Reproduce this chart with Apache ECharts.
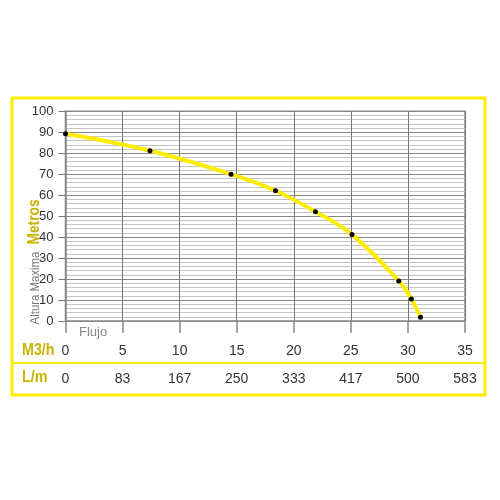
<!DOCTYPE html>
<html><head><meta charset="utf-8">
<script src="https://cdn.jsdelivr.net/npm/echarts@6/dist/echarts.min.js"></script>
<style>html,body{margin:0;padding:0;background:#fff}#c{width:500px;height:500px}</style>
</head><body><div id="c"></div>
<script>
var flowM3h = [0, 7.4, 14.5, 18.4, 21.9, 25.1, 29.2, 30.3, 31.1];
var heightM = [89.3, 81.2, 70.0, 62.1, 52.1, 41.2, 19.1, 10.5, 1.8];
var m3hTicks = [0, 5, 10, 15, 20, 25, 30, 35];
var lmTicks = ['0', '83', '167', '250', '333', '417', '500', '583'];

var YEL = '#ffed00', OLIVE = '#c8b400';
var boldFont = "bold 17px 'Liberation Sans', Arial, sans-serif";
var chart = echarts.init(document.getElementById('c'));
chart.setOption({
  animation: false,
  grid: {left: 65.5, right: 35, top: 111.3, bottom: 179, show: true, borderColor: '#888', borderWidth: 1.5, backgroundColor: 'transparent'},
  xAxis: [{
    type: 'value', min: 0, max: 35, interval: 5,
    axisLine: {show: false},
    axisTick: {show: true, length: 12, lineStyle: {color: '#888', width: 1.5}},
    axisLabel: {margin: 23, color: '#333', fontSize: 14, fontFamily: 'Liberation Sans',
      formatter: function (v) { return m3hTicks.indexOf(v) >= 0 ? String(v) : ''; }},
    splitLine: {show: true, lineStyle: {color: '#777', width: 1}}
  }, {
    type: 'value', min: 0, max: 35, interval: 5, position: 'bottom', offset: 28,
    axisLine: {show: false}, axisTick: {show: false}, splitLine: {show: false},
    axisLabel: {margin: 23, color: '#333', fontSize: 14, fontFamily: 'Liberation Sans',
      formatter: function (v) { var i = m3hTicks.indexOf(v); return i >= 0 ? lmTicks[i] : ''; }}
  }],
  yAxis: {
    type: 'value', min: 0, max: 100, interval: 10,
    axisLine: {show: true, lineStyle: {color: '#888', width: 1.5}},
    axisTick: {show: true, length: 7, lineStyle: {color: '#777'}},
    axisLabel: {margin: 12, color: '#333', fontSize: 13, fontFamily: 'Liberation Sans'},
    splitLine: {show: true, lineStyle: {color: '#888', width: 1}},
    minorTick: {show: false, splitNumber: 5},
    minorSplitLine: {show: true, lineStyle: {color: '#c4c4c4', width: 1}}
  },
  series: [{
    type: 'line', xAxisIndex: 0,
    data: flowM3h.map(function (x, i) { return [x, heightM[i]]; }),
    smooth: 0.4,
    lineStyle: {color: YEL, width: 4},
    symbol: 'circle', symbolSize: 5, showSymbol: true,
    itemStyle: {color: '#000', borderWidth: 0},
    z: 5
  }],
  graphic: [
    {type: 'rect', shape: {x: 12, y: 98, width: 473, height: 297}, style: {fill: null, stroke: YEL, lineWidth: 3}, z: 100},
    {type: 'line', shape: {x1: 12, y1: 363, x2: 485, y2: 363}, style: {stroke: YEL, lineWidth: 2}, z: 100},
    {type: 'text', x: 22, y: 350, scaleX: 0.84, style: {text: 'M3/h', fill: OLIVE, font: boldFont, verticalAlign: 'middle', align: 'left'}},
    {type: 'text', x: 22, y: 377, scaleX: 0.84, style: {text: 'L/m', fill: OLIVE, font: boldFont, verticalAlign: 'middle', align: 'left'}},
    {type: 'text', x: 79, y: 332, style: {text: 'Flujo', fill: '#888', font: "13px 'Liberation Sans'", verticalAlign: 'middle', align: 'left'}},
    {type: 'text', x: 34, y: 222, rotation: Math.PI / 2, scaleX: 0.81, style: {text: 'Metros', fill: OLIVE, font: boldFont, verticalAlign: 'middle', align: 'center'}},
    {type: 'text', x: 36, y: 288, rotation: Math.PI / 2, scaleX: 0.95, style: {text: 'Altura Maxima', fill: '#777', font: "12px 'Liberation Sans'", verticalAlign: 'middle', align: 'center'}}
  ]
});
</script></body></html>
